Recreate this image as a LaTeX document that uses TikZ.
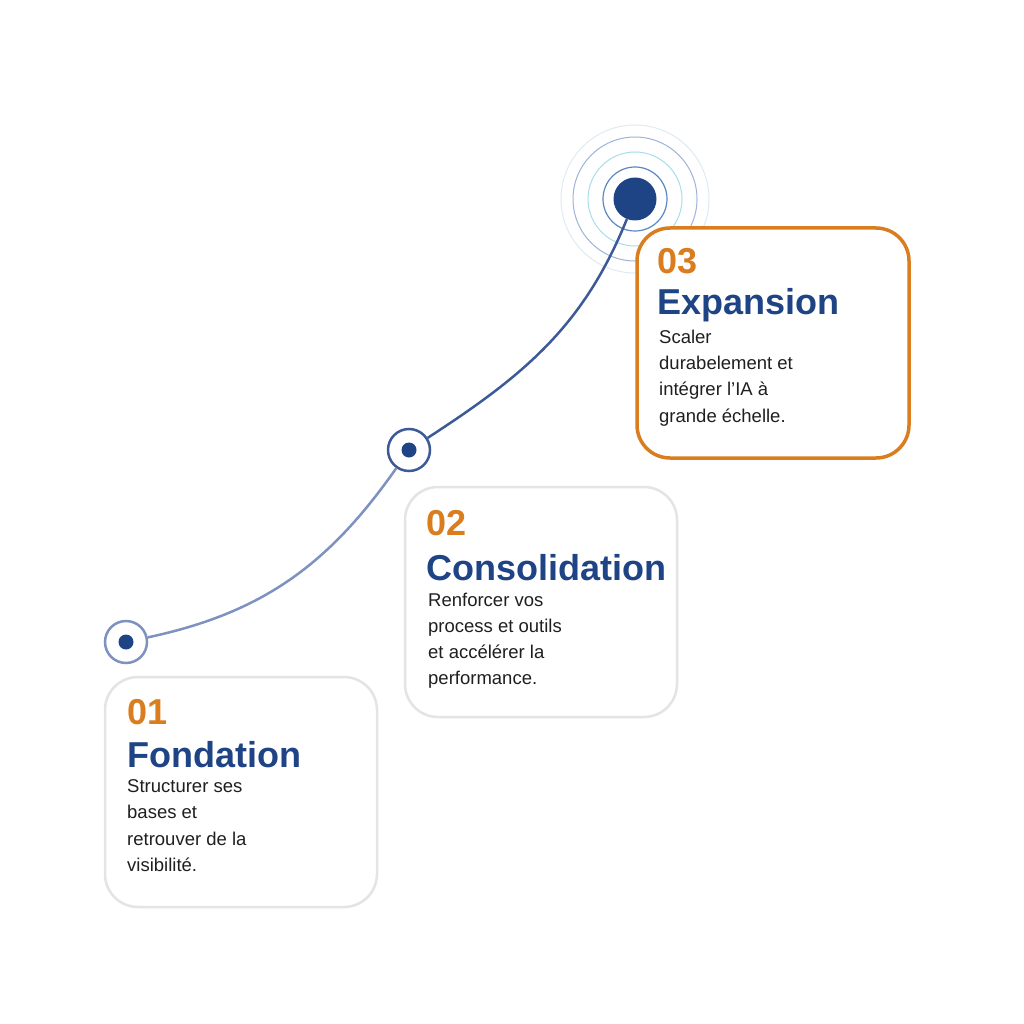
\documentclass[tikz,border=0pt]{standalone}
\usepackage{fontspec}
\setmainfont{Liberation Sans}
\usetikzlibrary{arrows.meta, positioning, calc}
\definecolor{navy}{HTML}{1F4486}
\definecolor{amber}{HTML}{D97D1F}
\definecolor{paleline}{HTML}{7D92C0}
\definecolor{deepline}{HTML}{3D5A98}
\definecolor{cardgray}{HTML}{E4E4E4}
\definecolor{wave1}{HTML}{5B87C5}
\definecolor{wave2}{HTML}{A9DDEB}
\definecolor{wave3}{HTML}{9DB3D8}
\definecolor{wave4}{HTML}{E0EAF3}

\begin{document}
\begin{tikzpicture}[
    x=1pt, y=-1pt,
    card/.style={draw=cardgray, fill=white, line width=2.5pt, rounded corners=33pt, minimum width=272pt, minimum height=230pt, anchor=north west, outer sep=0pt},
    hotcard/.style={card, draw=amber, line width=3.5pt},
    num/.style={anchor=base west, inner sep=0pt, text=amber, font=\fontsize{36}{36}\selectfont\bfseries},
    title/.style={anchor=base west, inner sep=0pt, text=navy, font=\fontsize{36}{36}\selectfont\bfseries},
    body/.style={anchor=north west, inner sep=0pt, align=left, text=black!88, font=\fontsize{18.5}{26.3}\selectfont},
    ring/.style={circle, draw=paleline, line width=2.5pt, fill=white, minimum size=42pt, inner sep=0pt},
    dot/.style={circle, fill=navy, minimum size=15pt, inner sep=0pt},
    hub/.style={circle, fill=navy, minimum size=43pt, inner sep=0pt},
    lowlink/.style={line width=2.5pt, paleline},
    highlink/.style={line width=2.5pt, deepline}
]
\fill[white] (0,0) rectangle (1024,1024);
\useasboundingbox (0,0) rectangle (1024,1024);

\draw[wave4, line width=1pt] (635,199) circle[radius=74pt];
\draw[wave3, line width=1pt] (635,199) circle[radius=62pt];
\draw[wave2, line width=1pt] (635,199) circle[radius=47pt];
\draw[wave1, line width=1.2pt] (635,199) circle[radius=32pt];

\node[card] (card1) at (105,677) {};
\node[card] (card2) at (405,487) {};
\node[hotcard] (card3) at (637,228) {};

\node[num] (n1) at (127,724) {01};
\node[title] (t1) at (127,767) {Fondation};
\node[body] (b1) at (127,779.5) {Structurer ses\\bases et\\retrouver de la\\visibilité.};

\node[num] (n2) at (426,535) {02};
\node[title] (t2) at (426,580) {Consolidation};
\node[body] (b2) at (428,592.5) {Renforcer vos\\process et outils\\et accélérer la\\performance.};

\node[num] (n3) at (657,273) {03};
\node[title] (t3) at (657,314) {Expansion};
\node[body] (b3) at (659,329.5) {Scaler\\durabelement et\\intégrer l’IA à\\grande échelle.};

\node[ring] (r1) at (126,642) {};
\node[ring, draw=deepline] (r2) at (409,450) {};
\node[dot] at (r1) {};
\node[dot] at (r2) {};
\node[hub] (top) at (635,199) {};

\draw[lowlink] (r1) to[out=12, in=235] (r2);
\draw[highlink] (r2) to[out=33, in=248] (top);

\end{tikzpicture}
\end{document}
